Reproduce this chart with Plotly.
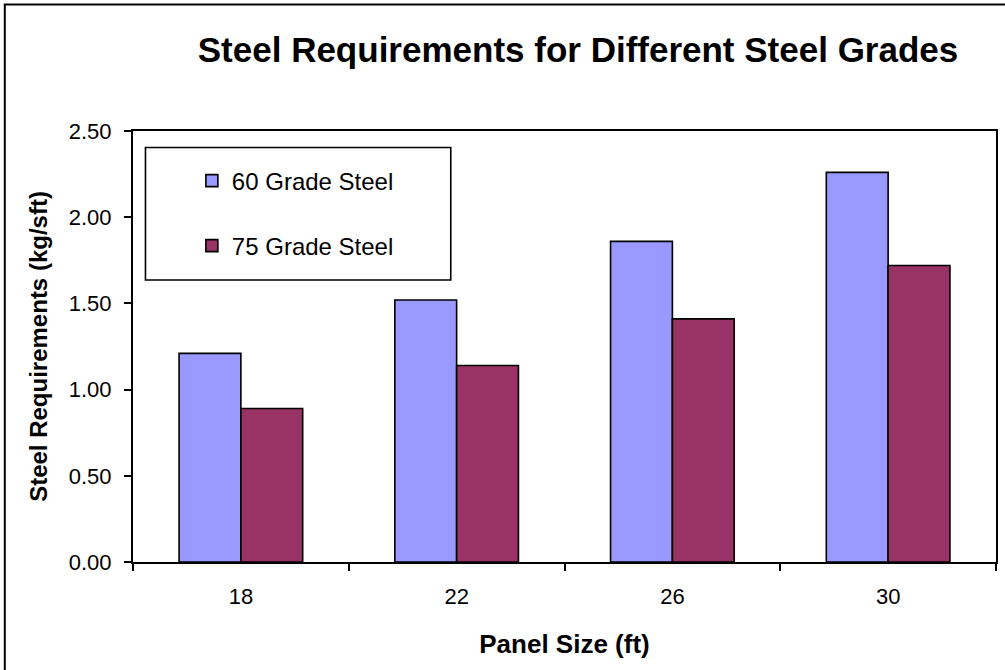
import plotly.graph_objects as go

# Panel sizes (ft) and steel requirement per grade (kg/sft)
panel_sizes = ["18", "22", "26", "30"]
grade_60 = [1.21, 1.52, 1.86, 2.26]
grade_75 = [0.89, 1.14, 1.41, 1.72]
y_ticks = [0.0, 0.5, 1.0, 1.5, 2.0, 2.5]

W, H = 1005, 670
L, R, T, B = 133, 7, 131, 108
PW, PH = W - L - R, H - T - B

def px_x(px):
    return (px - L) / PW

def px_y(py):
    return (H - B - py) / PH

FONT = "Liberation Sans, Arial, sans-serif"

fig = go.Figure()
fig.add_trace(go.Bar(
    x=panel_sizes, y=grade_60, name="60 Grade Steel",
    marker=dict(color="#9999FF", line=dict(color="#000000", width=1.6)),
    legend="legend", showlegend=True,
))
fig.add_trace(go.Bar(
    x=panel_sizes, y=grade_75, name="75 Grade Steel",
    marker=dict(color="#993366", line=dict(color="#000000", width=1.6)),
    legend="legend2", showlegend=True,
))

legend_common = dict(
    xanchor="left", yanchor="middle", bgcolor="rgba(0,0,0,0)",
    borderwidth=0, font=dict(family=FONT, size=24, color="#000000"),
    visible=True,
)

fig.update_layout(
    width=W, height=H,
    margin=dict(l=L, r=R, t=T, b=B, pad=0),
    paper_bgcolor="#FFFFFF", plot_bgcolor="#FFFFFF",
    showlegend=True,
    barmode="group", bargap=0.427, bargroupgap=0,
    title=dict(
        text="Steel Requirements for Different Steel Grades",
        x=578 / W, xanchor="center", y=1 - 50 / H, yanchor="middle",
        font=dict(family=FONT, size=35, color="#000000", weight="bold"),
    ),
    legend=dict(x=px_x(192), y=px_y(181), **legend_common),
    legend2=dict(x=px_x(192), y=px_y(246), **legend_common),
    xaxis=dict(
        type="category", showgrid=False, zeroline=False,
        showline=True, linecolor="#000000", linewidth=2, mirror=True,
        ticks="outside", tickson="boundaries", ticklen=7, tickwidth=1.5,
        tickcolor="#000000", ticklabelstandoff=14,
        tickfont=dict(family=FONT, size=22, color="#000000"),
        title=dict(text="Panel Size (ft)", standoff=26,
                   font=dict(family=FONT, size=26, color="#000000", weight="bold")),
    ),
    yaxis=dict(
        range=[0, 2.5], tickvals=y_ticks, tickformat=".2f",
        showgrid=False, zeroline=False,
        showline=True, linecolor="#000000", linewidth=2, mirror=True,
        ticks="outside", ticklen=7, tickwidth=1.5, tickcolor="#000000",
        ticklabelstandoff=8,
        tickfont=dict(family=FONT, size=22, color="#000000"),
        title=dict(text="Steel Requirements (kg/sft)", standoff=14,
                   font=dict(family=FONT, size=24, color="#000000", weight="bold")),
    ),
    shapes=[
        # frame around the whole chart
        dict(type="rect", xref="paper", yref="paper",
             x0=px_x(4.5), x1=px_x(1012), y0=px_y(680), y1=px_y(4.5),
             line=dict(color="#000000", width=2), fillcolor="rgba(0,0,0,0)",
             layer="above"),
        # legend box
        dict(type="rect", xref="paper", yref="paper",
             x0=px_x(145.5), x1=px_x(451.5), y0=px_y(280), y1=px_y(147.5),
             line=dict(color="#000000", width=1.6), fillcolor="#FFFFFF",
             layer="below"),
    ],
)

fig.write_html("out.html")
